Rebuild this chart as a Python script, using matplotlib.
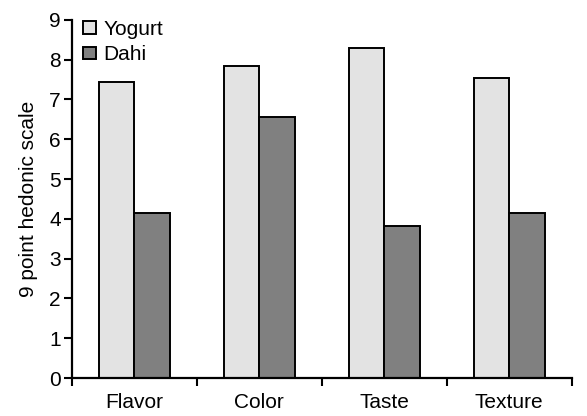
import numpy as np
import matplotlib
matplotlib.use("Agg")
import matplotlib.pyplot as plt

categories = ["Flavor", "Color", "Taste", "Texture"]
yogurt = [7.43, 7.85, 8.29, 7.55]
dahi = [4.15, 6.57, 3.83, 4.15]

plt.rcParams["font.family"] = ["Liberation Sans", "DejaVu Sans"]
fs = 15

fig = plt.figure(figsize=(5.87, 4.16), dpi=100)
ax = fig.add_axes([0.1227, 0.0913, 0.851, 0.861])

x = np.arange(len(categories))
w = 0.285
ax.bar(x - w / 2, yogurt, w, color="#e3e3e3", edgecolor="black", linewidth=1.4, label="Yogurt")
ax.bar(x + w / 2, dahi, w, color="#808080", edgecolor="black", linewidth=1.4, label="Dahi")

ax.set_xlim(-0.5, len(categories) - 0.5)
ax.set_ylim(0, 9)
ax.set_yticks(range(10))
ax.set_xticks(np.arange(len(categories) + 1) - 0.5)
ax.set_xticklabels([])
ax.set_xticks(x, minor=True)
ax.set_xticklabels(categories, minor=True, fontsize=fs)
ax.tick_params(axis="x", which="minor", length=0, pad=11)
ax.tick_params(axis="x", which="major", length=6, width=1.5, direction="out")
ax.tick_params(axis="y", length=6, width=1.5, labelsize=fs, pad=2)

for s in ["top", "right"]:
    ax.spines[s].set_visible(False)
ax.spines["left"].set_linewidth(1.6)
ax.spines["bottom"].set_linewidth(1.6)

ax.set_ylabel("9 point hedonic scale", fontsize=fs, labelpad=8)
ax.legend(loc="upper left", frameon=False, fontsize=fs, handlelength=0.62, handleheight=0.52,
          handletextpad=0.35, labelspacing=0.3, borderaxespad=0, borderpad=0,
          bbox_to_anchor=(0.022, 1.0))

fig.savefig("out.png", dpi=100)
